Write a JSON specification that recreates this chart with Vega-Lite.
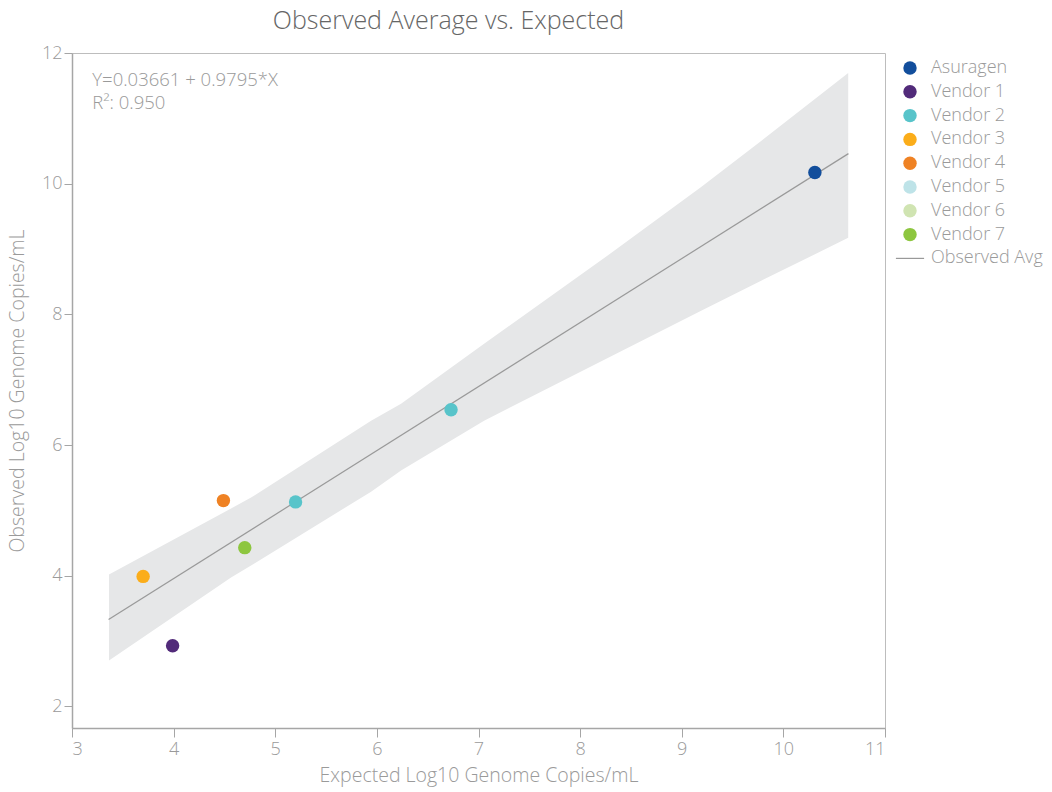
{
  "$schema": "https://vega.github.io/schema/vega-lite/v6.json",
  "width": 813,
  "height": 675,
  "autosize": {"type": "none"},
  "padding": {"left": 72, "top": 53, "right": 167, "bottom": 64},
  "background": "white",
  "title": {
    "text": "Observed Average vs. Expected",
    "fontSize": 25,
    "font": "Open Sans",
    "fontWeight": 300,
    "color": "#666666",
    "anchor": "middle",
    "frame": "group",
    "dx": -30,
    "offset": 10
  },
  "config": {
    "font": "Open Sans",
    "view": {"stroke": "#bdbdbd", "strokeWidth": 1},
    "axis": {
      "grid": false,
      "domainColor": "#a6a6a6",
      "domainWidth": 1.5,
      "tickColor": "#a6a6a6",
      "labelColor": "#9a9a9a",
      "titleColor": "#9a9a9a",
      "labelFontSize": 18,
      "titleFontSize": 19.5,
      "labelFont": "Open Sans",
      "titleFont": "Open Sans",
      "titleFontWeight": 300,
      "labelFontWeight": 300,
      "tickSize": 8
    },
    "legend": {
      "labelColor": "#9a9a9a",
      "labelFontSize": 18,
      "labelFont": "Open Sans",
      "labelFontWeight": 300
    }
  },
  "datasets": {
    "points": [
      {"vendor": "Asuragen", "expected": 10.31, "observed": 10.17},
      {"vendor": "Vendor 1", "expected": 3.99, "observed": 2.93},
      {"vendor": "Vendor 2", "expected": 5.2, "observed": 5.13},
      {"vendor": "Vendor 2", "expected": 6.73, "observed": 6.54},
      {"vendor": "Vendor 3", "expected": 3.7, "observed": 3.99},
      {"vendor": "Vendor 4", "expected": 4.49, "observed": 5.15},
      {"vendor": "Vendor 7", "expected": 4.7, "observed": 4.43}
    ],
    "fit": [
      {"x": 3.36, "y": 3.33},
      {"x": 10.64, "y": 10.46}
    ],
    "band": [
      {"x": 3.364, "lo": 2.703, "hi": 4.018},
      {"x": 4.565, "lo": 3.972, "hi": 5.028},
      {"x": 4.762, "lo": 4.156, "hi": 5.196},
      {"x": 5.943, "lo": 5.287, "hi": 6.373},
      {"x": 6.238, "lo": 5.609, "hi": 6.633},
      {"x": 7.055, "lo": 6.373, "hi": 7.55},
      {"x": 8.335, "lo": 7.382, "hi": 8.972},
      {"x": 9.191, "lo": 8.055, "hi": 9.951},
      {"x": 9.781, "lo": 8.514, "hi": 10.654},
      {"x": 10.638, "lo": 9.171, "hi": 11.694}
    ],
    "notes": [
      {"x": 3.2, "y": 11.59, "label": "Y=0.03661 + 0.9795*X"},
      {"x": 3.2, "y": 11.24, "label": "R²: 0.950"}
    ]
  },
  "layer": [
    {
      "data": {"name": "band"},
      "mark": {"type": "area", "color": "#e6e7e8", "opacity": 1},
      "encoding": {
        "x": {"field": "x", "type": "quantitative", "scale": {"domain": [3, 11], "nice": false, "zero": false}, "axis": {"values": [3,4,5,6,7,8,9,10,11], "format": "d", "title": "Expected Log10 Genome Copies/mL", "titlePadding": 8, "labelPadding": 3, "tickSize": 9}},
        "y": {"field": "lo", "type": "quantitative", "scale": {"domain": [1.67, 12], "nice": false, "zero": false}, "axis": {"values": [2,4,6,8,10,12], "format": "d", "title": "Observed Log10 Genome Copies/mL", "tickSize": 8, "labelPadding": 2, "titlePadding": 14}},
        "y2": {"field": "hi"}
      }
    },
    {
      "data": {"name": "fit"},
      "mark": {"type": "line", "color": "#999999", "strokeWidth": 1.2},
      "encoding": {
        "x": {"field": "x", "type": "quantitative"},
        "y": {"field": "y", "type": "quantitative"}
      }
    },
    {
      "data": {"name": "points"},
      "mark": {"type": "point", "filled": true, "opacity": 1, "size": 180},
      "encoding": {
        "x": {"field": "expected", "type": "quantitative"},
        "y": {"field": "observed", "type": "quantitative"},
        "color": {
          "field": "vendor",
          "type": "nominal",
          "scale": {
            "domain": ["Asuragen", "Vendor 1", "Vendor 2", "Vendor 3", "Vendor 4", "Vendor 5", "Vendor 6", "Vendor 7", "Observed Avg"],
            "range": ["#124e9c", "#522b7a", "#58c4ca", "#fbad1a", "#ef8224", "#bee3e8", "#d0e4b2", "#8dc63f", "#999999"]
          },
          "legend": {"title": null, "orient": "none", "legendX": 829, "legendY": 6, "symbolSize": 180, "rowPadding": 5.8, "labelOffset": 12, "symbolStrokeWidth": 0}
        },
        "shape": {
          "field": "vendor",
          "type": "nominal",
          "scale": {
            "domain": ["Asuragen", "Vendor 1", "Vendor 2", "Vendor 3", "Vendor 4", "Vendor 5", "Vendor 6", "Vendor 7", "Observed Avg"],
            "range": ["circle", "circle", "circle", "circle", "circle", "circle", "circle", "circle", "M-2.1,-0.09H2.1V0.09H-2.1Z"]
          },
          "legend": {"title": null, "orient": "none", "legendX": 829, "legendY": 6, "symbolSize": 180, "rowPadding": 5.8, "labelOffset": 12, "symbolStrokeWidth": 0}
        }
      }
    },
    {
      "data": {"name": "notes"},
      "mark": {"type": "text", "align": "left", "baseline": "middle", "fontSize": 18.5, "color": "#9a9a9a", "font": "Open Sans", "fontWeight": 300},
      "encoding": {
        "x": {"field": "x", "type": "quantitative"},
        "y": {"field": "y", "type": "quantitative"},
        "text": {"field": "label"}
      }
    }
  ]
}
